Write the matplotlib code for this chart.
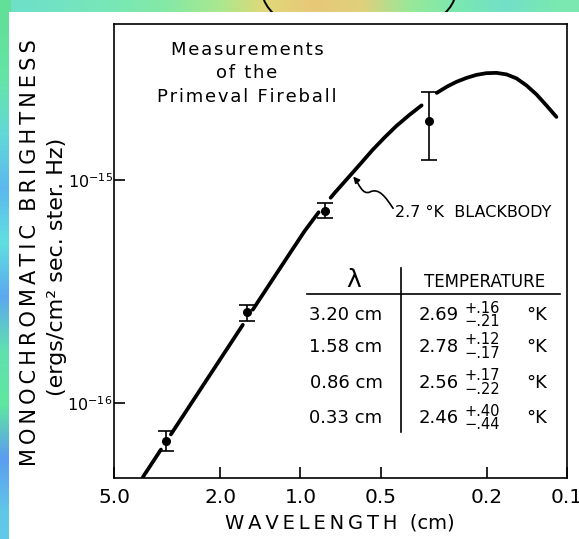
import numpy as np
import matplotlib
matplotlib.use('Agg')
import matplotlib.pyplot as plt
import matplotlib.colors as mcolors
from matplotlib.path import Path
from matplotlib.patches import FancyArrowPatch, Rectangle, Ellipse

nan = np.nan

# measured points: wavelength (cm) and monochromatic brightness
wl_pts = [3.20, 1.58, 0.81, 0.33]
b_pts = [6.78e-17, 2.55e-16, 7.28e-16, 1.84e-15]
b_hi = [7.45e-17, 2.75e-16, 7.87e-16, 2.49e-15]
b_lo = [6.11e-17, 2.34e-16, 6.73e-16, 1.23e-15]

bb_wl = [3.894, 3.334, nan,
         3.059, 1.644, nan,
         1.508, 1.195, 1.096, 0.963, 0.854, nan,
         0.770, 0.744, 0.653, 0.589, 0.536, 0.483, 0.436, 0.390, 0.351, nan,
         0.308, 0.283, 0.260, 0.238, 0.2185, 0.2004, 0.1839, 0.1687, 0.1547,
         0.1420, 0.1302, 0.1195, 0.1096]
bb_b = [4.66e-17, 6.18e-17, nan,
        7.23e-17, 2.24e-16, nan,
        2.62e-16, 4.00e-16, 4.68e-16, 5.91e-16, 7.16e-16, nan,
        8.32e-16, 8.74e-16, 1.042e-15, 1.198e-15, 1.363e-15, 1.551e-15, 1.747e-15, 1.956e-15, 2.158e-15, nan,
        2.455e-15, 2.613e-15, 2.751e-15, 2.867e-15, 2.957e-15, 3.010e-15, 3.019e-15, 2.972e-15, 2.852e-15,
        2.653e-15, 2.417e-15, 2.158e-15, 1.916e-15]

# tick labels
xtick_vals = [5.0, 2.0, 1.0, 0.5, 0.2, 0.1]
xtick_labels = ['5.0', '2.0', '1.0', '0.5', '0.2', '0.1']
ytick_vals = [1e-16, 1e-15]
ytick_labels = [r'$10^{-16}$', r'$10^{-15}$']

# table in the corner
tab_wl = ['3.20 cm', '1.58 cm', '0.86 cm', '0.33 cm']
tab_t = ['2.69', '2.78', '2.56', '2.46']
tab_plus = ['.16', '.12', '.17', '.40']
tab_minus = ['.21', '.17', '.22', '.44']

title_lines = ['Measurements', 'of the', 'Primeval Fireball']

# background colours of the slide around the scan
top_cols = ['#6ee0c8', '#74e4c0', '#7ae8b4', '#86e8a4', '#a8e890', '#e0d878', '#e8c878',
            '#e0d07c', '#98e898', '#7ae8b0', '#72e0c8', '#7ae8b0']
left_cols = ['#62e09a', '#66e4a8', '#62d8d8', '#5cb8ee', '#60e0e0', '#5ca8f0',
             '#60e0b0', '#5ee8a0', '#5c9cf0', '#60c8e8']


def spaced(s, sp='\u2009'):
    return sp.join(s)


fig = plt.figure(figsize=(5.79, 5.39), dpi=100)

bg = fig.add_axes([0, 0, 1, 1])
bg.set_xlim(0, 579)
bg.set_ylim(539, 0)
bg.axis('off')
top_img = np.array([[mcolors.to_rgb(c) for c in top_cols]])
left_img = np.array([[mcolors.to_rgb(c)] for c in left_cols])
bg.imshow(top_img, extent=(0, 579, 14, 0), aspect='auto', interpolation='bilinear', zorder=0)
bg.imshow(left_img, extent=(0, 11, 539, 0), aspect='auto', interpolation='bilinear', zorder=0)
bg.add_patch(Ellipse((359, -10), 194, 100, fill=False, lw=1.4, ec='black', zorder=1))
bg.add_patch(Rectangle((9, 12), 570, 527, fc='white', ec='none', zorder=2))

ax = fig.add_axes([0.1969, 0.1132, 0.7824, 0.8423])
ax.set_facecolor('none')
ax.set_xscale('log')
ax.set_yscale('log')
ax.set_xlim(5.0, 0.1)
ax.set_ylim(4.61e-17, 5.0e-15)

ax.plot(bb_wl, bb_b, color='black', lw=2.7, solid_capstyle='round', solid_joinstyle='round')
yerr = [np.array(b_pts) - np.array(b_lo), np.array(b_hi) - np.array(b_pts)]
ax.errorbar(wl_pts, b_pts, yerr=yerr, fmt='o', color='black', ms=5.5,
            elinewidth=1.2, capsize=6, capthick=1.2)

ax.xaxis.set_minor_locator(matplotlib.ticker.NullLocator())
ax.yaxis.set_minor_locator(matplotlib.ticker.NullLocator())
ax.set_xticks(xtick_vals, labels=xtick_labels)
ax.set_yticks(ytick_vals, labels=ytick_labels)
ax.tick_params(axis='both', direction='in', length=8, width=1.2, colors='black')
ax.tick_params(axis='x', labelsize=14.5, pad=7)
ax.tick_params(axis='y', labelsize=11.5, pad=1)
for sp in ax.spines.values():
    sp.set_linewidth(1.2)

title = '\n'.join(spaced(t, '\u200a') for t in title_lines)
ax.text(0.2936, 0.891, title, transform=ax.transAxes,
        ha='center', va='center', fontsize=13, linespacing=1.36)

ax.text(0.620, 0.584, '2.7 \u00b0K  BLACKBODY', transform=ax.transAxes,
        ha='left', va='center', fontsize=11.5)
verts = [(0.616, 0.594), (0.600, 0.618), (0.585, 0.640), (0.565, 0.630),
         (0.548, 0.622), (0.540, 0.650), (0.528, 0.664)]
codes = [Path.MOVETO, Path.CURVE4, Path.CURVE4, Path.CURVE4,
         Path.CURVE4, Path.CURVE4, Path.CURVE4]
ax.add_patch(FancyArrowPatch(path=Path(verts, codes), arrowstyle='-|>', mutation_scale=9,
                             lw=1.2, color='black', transform=ax.transAxes))

# table
ax.plot([0.634, 0.634], [0.101, 0.463], color='black', lw=1.2, transform=ax.transAxes)
ax.plot([0.426, 0.985], [0.405, 0.405], color='black', lw=1.2, transform=ax.transAxes)
ax.text(0.528, 0.436, '\u03bb', transform=ax.transAxes, ha='center', va='center', fontsize=18)
ax.text(0.819, 0.432, 'TEMPERATURE', transform=ax.transAxes, ha='center', va='center', fontsize=12)
row_y = [0.359, 0.289, 0.210, 0.132]
for i in range(len(tab_wl)):
    y = row_y[i]
    ax.text(0.512, y, tab_wl[i], transform=ax.transAxes, ha='center', va='center', fontsize=13)
    ax.text(0.716, y, tab_t[i], transform=ax.transAxes, ha='center', va='center', fontsize=13)
    ax.text(0.774, y + 0.015, '+' + tab_plus[i], transform=ax.transAxes, ha='left', va='center', fontsize=10.5)
    ax.text(0.774, y - 0.015, '\u2212' + tab_minus[i], transform=ax.transAxes, ha='left', va='center', fontsize=10.5)
    ax.text(0.932, y, '\u00b0K', transform=ax.transAxes, ha='center', va='center', fontsize=13)

fig.text(30 / 579, 0.5306, spaced('MONOCHROMATIC') + '  ' + spaced('BRIGHTNESS'),
         rotation=90, ha='center', va='center', fontsize=15)
fig.text(57 / 579, 0.5056, '(ergs/cm\u00b2 sec. ster. Hz)', rotation=90,
         ha='center', va='center', fontsize=16)
fig.text(340 / 579, 0.0297, spaced('WAVELENGTH') + '  (cm)', ha='center', va='center', fontsize=14)

fig.savefig('out.png', dpi=100)
